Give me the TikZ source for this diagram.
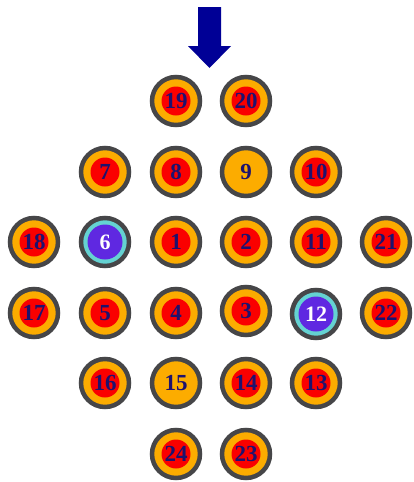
\documentclass[tikz,border=0pt]{standalone}
\usepackage{fontspec}
\setmainfont{Liberation Serif}
\definecolor{ringgray}{RGB}{70,70,72}
\definecolor{discorange}{RGB}{252,172,0}
\definecolor{discred}{RGB}{250,0,0}
\definecolor{numnavy}{RGB}{30,18,110}
\definecolor{arrowblue}{RGB}{0,0,150}
\definecolor{teal}{RGB}{100,210,210}
\definecolor{violet}{RGB}{95,40,225}
\tikzset{
  ringdisc/.style={circle, draw=ringgray, line width=4.5pt, fill=discorange, minimum size=48pt, inner sep=0pt},
  coredisc/.style={circle, fill=discred, minimum size=29pt, inner sep=0pt},
  specialring/.style={circle, draw=ringgray, line width=4.5pt, fill=teal, minimum size=48pt, inner sep=0pt},
  specialcore/.style={circle, fill=violet, minimum size=35pt, inner sep=0pt},
  numtext/.style={text=numnavy, font=\fontsize{23}{23}\selectfont\bfseries, inner sep=0pt},
  whitetext/.style={text=white, font=\fontsize{22}{22}\selectfont\bfseries, inner sep=0pt}
}
\newcommand{\reddisc}[4]{% name, x, y, label
  \node[ringdisc] (#1) at (#2,#3) {};
  \node[coredisc] (#1c) at (#1) {};
  \node[numtext] (#1t) at (#1) {#4};
}
\newcommand{\orangedisc}[4]{%
  \node[ringdisc] (#1) at (#2,#3) {};
  \node[numtext] (#1t) at (#1) {#4};
}
\newcommand{\violetdisc}[4]{%
  \node[specialring] (#1) at (#2,#3) {};
  \node[specialcore] (#1c) at (#1) {};
  \node[whitetext] (#1t) at (#1) {#4};
}
\begin{document}
\begin{tikzpicture}[x=1pt,y=-1pt]
\useasboundingbox (0,0) rectangle (413,482);
% arrow
\fill[arrowblue] (198,7) -- (221,7) -- (221,46) -- (231,46) -- (209.5,68) -- (188,46) -- (198,46) -- cycle;
% row 1
\reddisc{d19}{176}{101}{19}
\reddisc{d20}{246}{101}{20}
% row 2
\reddisc{d7}{105}{172}{7}
\reddisc{d8}{176}{172}{8}
\orangedisc{d9}{246}{172}{9}
\reddisc{d10}{316}{172}{10}
% row 3
\reddisc{d18}{34}{242}{18}
\violetdisc{d6}{105}{242}{6}
\reddisc{d1}{176}{242}{1}
\reddisc{d2}{246}{242}{2}
\reddisc{d11}{316}{242}{11}
\reddisc{d21}{386}{242}{21}
% row 4
\reddisc{d17}{34}{313}{17}
\reddisc{d5}{105}{313}{5}
\reddisc{d4}{176}{313}{4}
\reddisc{d3}{246}{311}{3}
\violetdisc{d12}{316}{314}{12}
\reddisc{d22}{386}{313}{22}
% row 5
\reddisc{d16}{105}{383}{16}
\orangedisc{d15}{176}{383}{15}
\reddisc{d14}{246}{383}{14}
\reddisc{d13}{316}{383}{13}
% row 6
\reddisc{d24}{176}{454}{24}
\reddisc{d23}{246}{454}{23}
\end{tikzpicture}
\end{document}
